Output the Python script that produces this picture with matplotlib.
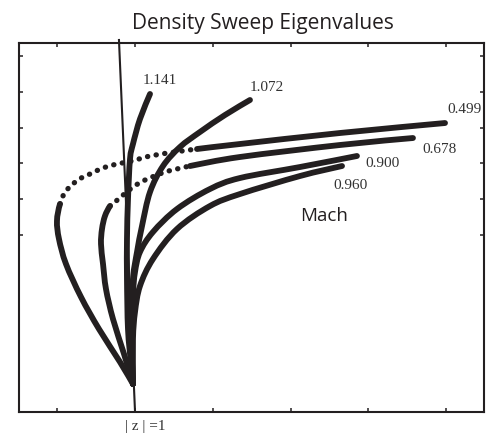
import matplotlib
matplotlib.use("Agg")
import matplotlib.pyplot as plt
from matplotlib.path import Path
from matplotlib.patches import PathPatch

# ---- eigenvalue loci, one per Mach number (Re, Im in plot units) ----
mach_numbers = ["1.141", "1.072", "0.499", "0.678", "0.900", "0.960"]

re_m1141 = [-0.026, -0.051, -0.090, -0.103, -0.103, -0.090, -0.064, -0.026, 0.064, 0.193]
im_m1141 = [-4.162, -3.603, -2.626, -1.229, -0.112, 1.006, 2.123, 2.542, 3.240, 3.939]

re_m1072 = [-0.026, -0.051, -0.026, 0.026, 0.090, 0.193, 0.360, 0.578, 0.835, 1.157, 1.478]
im_m1072 = [-4.162, -2.626, -1.229, -0.475, 0.251, 1.201, 1.927, 2.458, 2.877, 3.352, 3.771]

re_m0499 = [-0.026, -0.193, -0.463, -0.694, -0.887, -0.977, -1.003, -0.964, -0.887, -0.733,
            -0.578, -0.411, -0.231, -0.039, 0.193, 0.514, 0.797, 1.350, 2.635, 3.985]
im_m0499 = [-4.162, -3.547, -2.626, -1.732, -0.810, -0.112, 0.391, 0.866, 1.229, 1.536,
            1.704, 1.872, 1.983, 2.067, 2.207, 2.318, 2.402, 2.542, 2.849, 3.128]

re_m0678 = [-0.026, -0.141, -0.283, -0.373, -0.411, -0.437, -0.424, -0.386, -0.321, -0.257,
            -0.167, -0.026, 0.103, 0.219, 0.386, 0.540, 0.707, 1.350, 2.635, 3.573]
im_m0678 = [-4.162, -3.324, -2.346, -1.508, -0.810, -0.251, 0.168, 0.531, 0.810, 0.922,
            1.089, 1.341, 1.508, 1.620, 1.760, 1.844, 1.927, 2.179, 2.514, 2.709]

re_m0900 = [-0.026, -0.039, -0.026, 0.000, 0.064, 0.231, 0.540, 0.964, 1.350, 2.121, 2.853]
im_m0900 = [-4.162, -2.626, -1.648, -1.034, -0.475, 0.084, 0.726, 1.285, 1.592, 1.899, 2.207]

re_m0960 = [-0.026, -0.026, 0.000, 0.064, 0.231, 0.540, 0.964, 1.350, 2.121, 2.661]
im_m0960 = [-4.162, -2.905, -2.151, -1.425, -0.670, 0.168, 0.810, 1.145, 1.648, 1.927]

# unit-circle reference |z| = 1
re_unit = [-0.206, 0.000]
im_unit = [5.447, -4.916]

x_ticks = [-1, 0, 1, 2, 3, 4]
y_ticks = [0, 1, 2, 3, 4, 5]

# ---- layout / styling ----
INK = "#231f20"
LW = 4.2
DOT_LW = 3.8
series = {
    "1.141": (re_m1141, im_m1141),
    "1.072": (re_m1072, im_m1072),
    "0.499": (re_m0499, im_m0499),
    "0.678": (re_m0678, im_m0678),
    "0.900": (re_m0900, im_m0900),
    "0.960": (re_m0960, im_m0960),
}
# index ranges where the sampled points are spread out enough to show as dots
sparse_spans = {"0.499": (7, 16), "0.678": (8, 16)}
label_pos = {
    "1.141": (0.321, 4.330),
    "1.072": (1.697, 4.134),
    "0.499": (4.229, 3.520),
    "0.678": (3.920, 2.430),
    "0.900": (3.175, 2.039),
    "0.960": (2.776, 1.397),
}


def smooth_path(xs, ys, lo, hi):
    """Cubic Bezier path through points lo..hi (Catmull-Rom tangents)."""
    n = len(xs)
    verts = [(xs[lo], ys[lo])]
    codes = [Path.MOVETO]
    for i in range(lo, hi):
        p0 = (xs[max(i - 1, 0)], ys[max(i - 1, 0)])
        p1 = (xs[i], ys[i])
        p2 = (xs[i + 1], ys[i + 1])
        p3 = (xs[min(i + 2, n - 1)], ys[min(i + 2, n - 1)])
        c1 = (p1[0] + (p2[0] - p0[0]) / 6, p1[1] + (p2[1] - p0[1]) / 6)
        c2 = (p2[0] - (p3[0] - p1[0]) / 6, p2[1] - (p3[1] - p1[1]) / 6)
        verts += [c1, c2, p2]
        codes += [Path.CURVE4] * 3
    return Path(verts, codes)


fig = plt.figure(figsize=(4.88, 4.35), dpi=100)
ax = fig.add_axes([19 / 488, 22.5 / 435, 465 / 488, 368.5 / 435])


def draw(path, dotted):
    if dotted:
        patch = PathPatch(path, fill=False, edgecolor=INK, lw=DOT_LW,
                          linestyle=(0, (0.05, 1.6)), capstyle="round")
    else:
        patch = PathPatch(path, fill=False, edgecolor=INK, lw=LW,
                          capstyle="round", joinstyle="round")
    ax.add_patch(patch)


for name in mach_numbers:
    xs, ys = series[name]
    last = len(xs) - 1
    if name in sparse_spans:
        a, b = sparse_spans[name]
        draw(smooth_path(xs, ys, 0, a), False)
        draw(smooth_path(xs, ys, a, b), True)
        draw(smooth_path(xs, ys, b, last), False)
    else:
        draw(smooth_path(xs, ys, 0, last), False)
    lx, ly = label_pos[name]
    ax.text(lx, ly, name, ha="center", va="center", fontsize=11,
            family="Liberation Serif", color="#333333")

ax.plot(re_unit, im_unit, color=INK, lw=1.5, clip_on=False, zorder=1)
ax.text(0.129, -5.32, "| z | =1", ha="center", va="center", fontsize=11,
        family="Liberation Serif", color="#333333", clip_on=False)

ax.text(2.429, 0.559, "Mach", ha="center", va="center", fontsize=13.5,
        family="Open Sans", color=INK)

ax.set_xlim(-1.491, 4.486)
ax.set_ylim(-4.930, 5.363)
ax.set_xticks(x_ticks)
ax.set_yticks(y_ticks)
ax.tick_params(direction="in", length=3.2, width=1.1, top=True, right=True,
               labelbottom=False, labelleft=False, color=INK)
for sp in ax.spines.values():
    sp.set_linewidth(1.5)
    sp.set_color(INK)

fig.text(263 / 488, 1 - 24 / 435, "Density Sweep Eigenvalues", ha="center",
         va="center", fontsize=15, family="Open Sans", color=INK)

fig.savefig("out.png", dpi=100)
